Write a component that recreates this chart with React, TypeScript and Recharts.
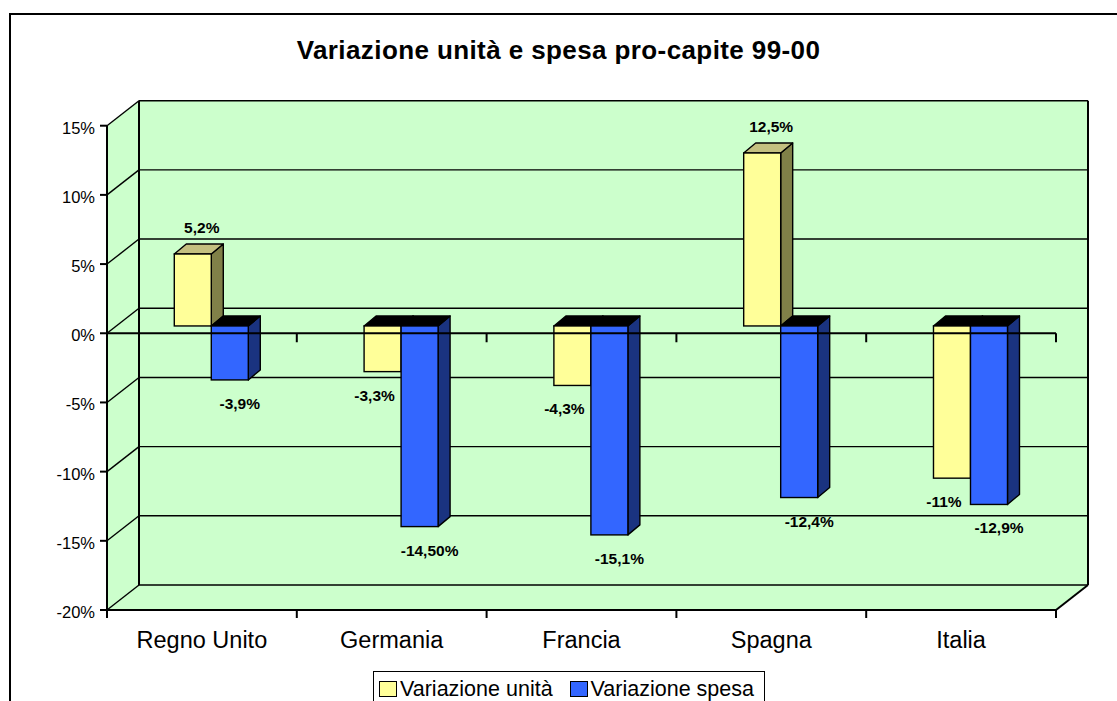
import React from 'react';
import { BarChart, Bar, XAxis, YAxis, CartesianGrid, ReferenceLine, Legend } from 'recharts';

const categories = ['Regno Unito', 'Germania', 'Francia', 'Spagna', 'Italia'];
const unitValues = [5.2, -3.3, -4.3, 12.5, -11];
const spendValues = [-3.9, -14.5, -15.1, -12.4, -12.9];
const unitLabels = ['5,2%', '-3,3%', '-4,3%', '12,5%', '-11%'];
const spendLabels = ['-3,9%', '-14,50%', '-15,1%', '-12,4%', '-12,9%'];
const yTicks = [-20, -15, -10, -5, 0, 5, 10, 15];
const seriesNames = ['Variazione unità', 'Variazione spesa'];
const seriesColors = ['#FFFF99', '#3366FF'];
const title = 'Variazione unità e spesa pro-capite 99-00';

const data = categories.map((name, i) => ({ name, unit: unitValues[i], spend: spendValues[i] }));

const FONT = 'Arial, "Liberation Sans", Helvetica, sans-serif';
const WALL = '#CCFFCC';
const DEPTH_X = 32;
const DEPTH_Y = -25;
const PLANE_X = 9.4;
const PLANE_Y = -7.3;
const BAR_DX = 12;
const BAR_DY = -10;

const seriesStyle: Record<string, any> = {
  unit: { front: seriesColors[0], top: '#C4C080', side: '#808048', values: unitValues, labels: unitLabels, dxPos: 9, dxNeg: -8 },
  spend: { front: seriesColors[1], top: '#2A4FC0', side: '#1A3380', values: spendValues, labels: spendLabels, dxPos: 9, dxNeg: 10 },
};

const Bar3D = (props: any) => {
  const { x, y, width, height, index, seriesKey } = props;
  const st = seriesStyle[seriesKey];
  if (x == null || y == null) return null;
  const value = st.values[index];
  const h = Math.abs(height);
  const top = Math.min(y, y + height);
  const fx = x + PLANE_X;
  const fy = top + PLANE_Y;
  const fw = width;
  const positive = value >= 0;
  const stroke = '#000';
  const sw = 1.4;
  const topFace = `${fx},${fy} ${fx + BAR_DX},${fy + BAR_DY} ${fx + fw + BAR_DX},${fy + BAR_DY} ${fx + fw},${fy}`;
  const sideFace = `${fx + fw},${fy} ${fx + fw + BAR_DX},${fy + BAR_DY} ${fx + fw + BAR_DX},${fy + h + BAR_DY} ${fx + fw},${fy + h}`;
  const label = st.labels[index];
  const lx = fx + fw / 2 + (positive ? st.dxPos : st.dxNeg);
  const ly = positive ? fy - 21 : fy + h + 29;
  return (
    <g>
      <polygon points={sideFace} fill={st.side} stroke={stroke} strokeWidth={sw} strokeLinejoin="round" />
      <polygon points={topFace} fill={positive ? st.top : '#000'} stroke={stroke} strokeWidth={sw} strokeLinejoin="round" />
      <rect x={fx} y={fy} width={fw} height={h} fill={st.front} stroke={stroke} strokeWidth={sw} />
      <text x={lx} y={ly} textAnchor="middle" fontFamily={FONT} fontSize={15.5} fontWeight="bold" fill="#000">
        {label}
      </text>
    </g>
  );
};

const renderGridLine = (p: any) => {
  const x0 = p.x1;
  const x1 = p.x2;
  const y = p.y1;
  const pts: number[] = p.horizontalPoints || [];
  const top = typeof p.y === 'number' ? p.y : Math.min(...pts);
  const bottom = typeof p.height === 'number' ? top + p.height : Math.max(...pts);
  const lw = 1.4;
  return (
    <g>
      {p.index === 0 && (
        <g>
          <polygon
            points={`${x0},${top} ${x0 + DEPTH_X},${top + DEPTH_Y} ${x0 + DEPTH_X},${bottom + DEPTH_Y} ${x0},${bottom}`}
            fill={WALL}
          />
          <rect x={x0 + DEPTH_X} y={top + DEPTH_Y} width={x1 - x0} height={bottom - top} fill={WALL} />
          <polygon
            points={`${x0},${bottom} ${x0 + DEPTH_X},${bottom + DEPTH_Y} ${x1 + DEPTH_X},${bottom + DEPTH_Y} ${x1},${bottom}`}
            fill={WALL}
          />
          <line x1={x0 + DEPTH_X} y1={top + DEPTH_Y} x2={x0 + DEPTH_X} y2={bottom + DEPTH_Y} stroke="#000" strokeWidth={2} />
          <line x1={x1 + DEPTH_X} y1={top + DEPTH_Y} x2={x1 + DEPTH_X} y2={bottom + DEPTH_Y} stroke="#000" strokeWidth={2} />
          <line x1={x1} y1={bottom} x2={x1 + DEPTH_X} y2={bottom + DEPTH_Y} stroke="#000" strokeWidth={2} />
        </g>
      )}
      <line x1={x0 + DEPTH_X} y1={y + DEPTH_Y} x2={x1 + DEPTH_X} y2={y + DEPTH_Y} stroke="#000" strokeWidth={lw} />
      <line x1={x0} y1={y} x2={x0 + DEPTH_X} y2={y + DEPTH_Y} stroke="#000" strokeWidth={lw} />
    </g>
  );
};

const renderZeroLine = (p: any) => {
  const x1 = p.x1;
  const x2 = p.x2;
  const y = p.y1;
  const n = categories.length;
  const step = (x2 - x1) / n;
  return (
    <g>
      <line x1={x1} y1={y} x2={x2} y2={y} stroke="#000" strokeWidth={2} />
      {categories.map((_, i) => (
        <line key={i} x1={x1 + step * (i + 1)} y1={y} x2={x1 + step * (i + 1)} y2={y + 9} stroke="#000" strokeWidth={2} />
      ))}
    </g>
  );
};

const CategoryTick = (p: any) => {
  const { x, y, payload, index } = p;
  const half = (payload && payload.offset) || p.offset || (p.width ? p.width / categories.length / 2 : 0);
  const last = index === categories.length - 1;
  return (
    <g>
      <line x1={x - half} y1={y} x2={x - half} y2={y + 8} stroke="#000" strokeWidth={2} />
      {last && <line x1={x + half} y1={y} x2={x + half} y2={y + 8} stroke="#000" strokeWidth={2} />}
      <text x={x} y={y + 38} textAnchor="middle" fontFamily={FONT} fontSize={23.5} fill="#000">
        {payload.value}
      </text>
    </g>
  );
};

const ValueTick = (p: any) => (
  <text x={p.x} y={p.y} dy={8} textAnchor="end" fontFamily={FONT} fontSize={16.5} fill="#000">
    {`${p.payload.value}%`}
  </text>
);

const LegendBox = (props: any) => {
  const payload: any[] = (props && props.payload) || [];
  const items = seriesNames.map((n, i) => {
    const e = payload.find((q: any) => q && q.value === n);
    return { name: n, color: (e && e.color) || seriesColors[i] };
  });
  return (
    <div
      style={{
        border: '1.5px solid #000',
        boxSizing: 'border-box',
        width: 392,
        height: 40,
        paddingTop: 6,
        paddingLeft: 5,
        display: 'flex',
        alignItems: 'flex-start',
        fontFamily: FONT,
        fontSize: 21.5,
        lineHeight: '22px',
        background: '#fff',
        color: '#000',
        whiteSpace: 'nowrap',
      }}
    >
      {items.map((it, i) => (
        <div key={i} style={{ display: 'flex', alignItems: 'flex-start', marginRight: i === 0 ? 17 : 0 }}>
          <div
            style={{
              width: 18,
              height: 16,
              boxSizing: 'border-box',
              border: '1.5px solid #000',
              background: it.color,
              marginTop: 3,
              marginRight: 3,
            }}
          />
          <span>{it.name}</span>
        </div>
      ))}
    </div>
  );
};

export default function App() {
  return (
    <div style={{ position: 'absolute', left: 0, top: 0, width: 1117, height: 701, overflow: 'hidden', background: '#fff' }}>
      <div
        style={{
          position: 'absolute',
          left: 9,
          top: 13,
          width: 1300,
          height: 900,
          border: '2px solid #000',
          boxSizing: 'border-box',
        }}
      />
      <svg style={{ position: 'absolute', left: 0, top: 0 }} width={1117} height={80}>
        <text x={558.5} y={59} textAnchor="middle" fontFamily={FONT} fontSize={26} fontWeight="bold" letterSpacing={0.4} fill="#000">
          {title}
        </text>
      </svg>
      <div style={{ position: 'absolute', left: 0, top: 0 }}>
        <BarChart
          width={1117}
          height={701}
          data={data}
          margin={{ top: 125.7, right: 61, bottom: 51, left: 47 }}
          barGap={0}
          barCategoryGap="30.5%"
        >
          <CartesianGrid horizontal={renderGridLine as any} vertical={false} />
          <XAxis
            dataKey="name"
            height={40}
            axisLine={{ stroke: '#000', strokeWidth: 2 }}
            tickLine={false}
            tickSize={0}
            tickMargin={0}
            interval={0}
            tick={<CategoryTick />}
          />
          <YAxis
            type="number"
            width={60}
            domain={[-20, 15]}
            ticks={yTicks}
            interval={0}
            axisLine={{ stroke: '#000', strokeWidth: 2 }}
            tickLine={{ stroke: '#000', strokeWidth: 2 }}
            tickSize={7}
            tickMargin={5}
            tick={<ValueTick />}
          />
          <Bar
            dataKey="unit"
            name={seriesNames[0]}
            fill={seriesColors[0]}
            isAnimationActive={false}
            shape={(p: any) => <Bar3D {...p} seriesKey="unit" />}
          />
          <Bar
            dataKey="spend"
            name={seriesNames[1]}
            fill={seriesColors[1]}
            isAnimationActive={false}
            shape={(p: any) => <Bar3D {...p} seriesKey="spend" />}
          />
          <ReferenceLine y={0} stroke="#000" strokeWidth={2} shape={renderZeroLine as any} />
          <Legend
            layout="horizontal"
            verticalAlign="middle"
            align="center"
            content={<LegendBox />}
            wrapperStyle={{ left: 373, top: 671, width: 392, height: 40 }}
          />
        </BarChart>
      </div>
    </div>
  );
}
